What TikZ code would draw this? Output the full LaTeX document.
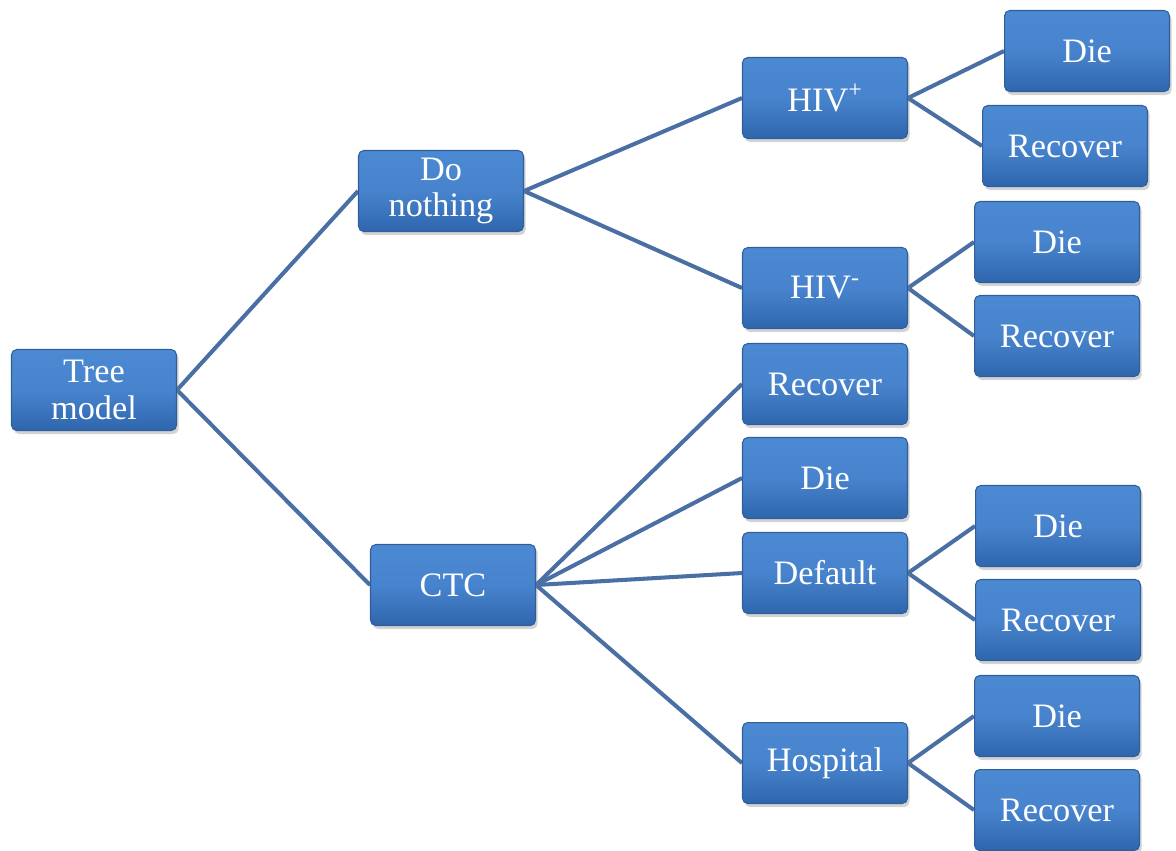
\documentclass[tikz,border=0pt]{standalone}
\usepackage{fontspec}
\setmainfont{Liberation Serif}
\usetikzlibrary{shadows,backgrounds}
\definecolor{lineblue}{HTML}{4A6FA5}
\definecolor{boxtop}{HTML}{4C89D3}
\definecolor{boxbot}{HTML}{2E66AD}
\definecolor{boxedge}{HTML}{2F5E99}
\tikzset{
  bx/.style={draw=boxedge, line width=0.6pt, rounded corners=3pt,
    top color=boxtop, bottom color=boxbot, middle color=boxtop!85!boxbot,
    minimum width=3.3cm, minimum height=1.62cm, inner sep=0pt,
    text=white, align=center,
    font=\fontsize{19.5}{21}\selectfont,
    drop shadow={opacity=0.35, shadow xshift=1.2pt, shadow yshift=-2pt}},
  ln/.style={draw=lineblue, line width=2.3pt}
}
\begin{document}
\begin{tikzpicture}[x=0.02cm,y=-0.02cm]
\useasboundingbox (0,0) rectangle (1176,850);
\node[bx] (tree) at (94,390) {Tree\\model};
\node[bx] (dn) at (441,191) {Do\\nothing};
\node[bx] (ctc) at (453,585) {CTC};
\node[bx] (hp) at (825,98) {HIV\textsuperscript{+}};
\node[bx] (hm) at (825,288) {HIV\textsuperscript{-}};
\node[bx] (crec) at (825,384) {Recover};
\node[bx] (cdie) at (825,478) {Die};
\node[bx] (def) at (825,573) {Default};
\node[bx] (hos) at (825,763) {Hospital};
\node[bx] (hpd) at (1087,51) {Die};
\node[bx] (hpr) at (1065,146) {Recover};
\node[bx] (hmd) at (1057,242) {Die};
\node[bx] (hmr) at (1057,336) {Recover};
\node[bx] (dd) at (1058,526) {Die};
\node[bx] (dr) at (1058,620) {Recover};
\node[bx] (hd) at (1057,716) {Die};
\node[bx] (hr) at (1057,810) {Recover};
\begin{pgfonlayer}{background}
\draw[ln] (tree.east) -- (dn.west);
\draw[ln] (tree.east) -- (ctc.west);
\draw[ln] (dn.east) -- (hp.west);
\draw[ln] (dn.east) -- (hm.west);
\draw[ln] (ctc.east) -- (crec.west);
\draw[ln] (ctc.east) -- (cdie.west);
\draw[ln] (ctc.east) -- (def.west);
\draw[ln] (ctc.east) -- (hos.west);
\draw[ln] (hp.east) -- (hpd.west);
\draw[ln] (hp.east) -- (hpr.west);
\draw[ln] (hm.east) -- (hmd.west);
\draw[ln] (hm.east) -- (hmr.west);
\draw[ln] (def.east) -- (dd.west);
\draw[ln] (def.east) -- (dr.west);
\draw[ln] (hos.east) -- (hd.west);
\draw[ln] (hos.east) -- (hr.west);
\end{pgfonlayer}
\end{tikzpicture}
\end{document}
